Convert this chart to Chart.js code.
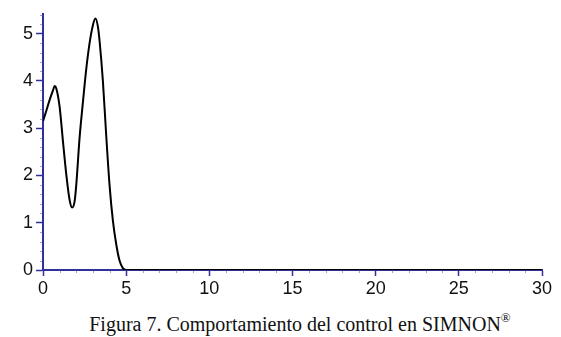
<!DOCTYPE html>
<html>
<head>
<meta charset="utf-8">
<script src="https://cdn.jsdelivr.net/npm/chart.js@4/dist/chart.umd.min.js"></script>
<style>
  html, body { margin: 0; padding: 0; background: #fff; }
  #wrap { position: relative; width: 561px; height: 337px; overflow: hidden; }
  #c { position: absolute; left: 0; top: 0; }
  #cap { position: absolute; left: 0; top: 313px; width: 600px; text-align: center;
         font-family: "Liberation Serif", "Times New Roman", serif; font-size: 20px;
         line-height: 22px; color: #111; white-space: nowrap; }
  #cap sup { font-size: 13px; vertical-align: 0; position: relative; top: -9px; }
</style>
</head>
<body>
<div id="wrap">
  <canvas id="c" width="561" height="305"></canvas>
  <div id="cap">Figura 7. Comportamiento del control en SIMNON<sup>®</sup></div>
</div>
<script>
// Data
const time = [0, 0.2, 0.4, 0.6, 0.7, 0.8, 1.0, 1.2, 1.4, 1.6, 1.75, 1.9, 2.0, 2.2, 2.4, 2.6, 2.8, 3.0, 3.15, 3.3, 3.4, 3.6, 3.8, 4.0, 4.2, 4.4, 4.6, 4.8, 5.0, 10, 15, 20, 25, 30];
const control = [3.15, 3.37, 3.6, 3.8, 3.89, 3.84, 3.45, 2.72, 2.02, 1.48, 1.32, 1.45, 1.8, 2.8, 3.55, 4.25, 4.8, 5.18, 5.32, 5.15, 4.85, 4.0, 2.85, 1.8, 1.05, 0.55, 0.2, 0.04, 0, 0, 0, 0, 0, 0];
const xTicks = [0, 5, 10, 15, 20, 25, 30];
const yTicks = [0, 1, 2, 3, 4, 5];
const xMinorStep = 1;
const yMinorStep = 0.2;

const axisColor = '#30309a';

const minorTicks = {
  id: 'minorTicks',
  afterDraw(chart) {
    const ctx = chart.ctx;
    const xs = chart.scales.x, ys = chart.scales.y;
    ctx.save();
    ctx.strokeStyle = 'rgba(80,80,190,0.55)';
    ctx.lineWidth = 1;
    ctx.beginPath();
    for (let v = xs.min; v <= xs.max + 1e-9; v += xMinorStep) {
      if (xTicks.includes(Math.round(v * 1000) / 1000)) continue;
      const px = Math.round(xs.getPixelForValue(v)) + 0.5;
      ctx.moveTo(px, ys.bottom);
      ctx.lineTo(px, ys.bottom + 3);
    }
    for (let v = ys.min; v <= ys.max + 1e-9; v += yMinorStep) {
      const r = Math.round(v * 1000) / 1000;
      if (yTicks.includes(r)) continue;
      const py = Math.round(ys.getPixelForValue(v)) + 0.5;
      ctx.moveTo(xs.left - 3, py);
      ctx.lineTo(xs.left, py);
    }
    ctx.stroke();
    ctx.restore();
  }
};

new Chart(document.getElementById('c'), {
  type: 'line',
  data: {
    datasets: [{
      data: time.map((t, i) => ({ x: t, y: control[i] })),
      borderColor: '#000',
      borderWidth: 2,
      pointRadius: 0,
      cubicInterpolationMode: 'monotone',
      fill: false
    }]
  },
  options: {
    responsive: false,
    animation: false,
    layout: { padding: { top: 11, right: 19, left: 0, bottom: 0 } },
    plugins: { legend: { display: false }, tooltip: { enabled: false }, title: { display: false } },
    scales: {
      x: {
        type: 'linear',
        min: 0, max: 30,
        afterBuildTicks: s => { s.ticks = xTicks.map(v => ({ value: v })); },
        afterFit: s => { s.height = 35; },
        border: { display: true, color: axisColor, width: 2 },
        grid: { drawOnChartArea: false, drawTicks: true, tickLength: 6, color: axisColor, tickWidth: 1.5 },
        ticks: { color: '#111', padding: 2, maxRotation: 0,
                 font: { family: 'Liberation Sans', size: 18 } }
      },
      y: {
        type: 'linear',
        min: 0, max: 5.42,
        afterBuildTicks: s => { s.ticks = yTicks.map(v => ({ value: v })); },
        afterFit: s => { s.width = 43; },
        border: { display: true, color: axisColor, width: 2 },
        grid: { drawOnChartArea: false, drawTicks: true, tickLength: 7, color: axisColor, tickWidth: 1.5 },
        ticks: { color: '#111', padding: 3,
                 font: { family: 'Liberation Sans', size: 18 } }
      }
    }
  },
  plugins: [minorTicks]
});
</script>
</body>
</html>
